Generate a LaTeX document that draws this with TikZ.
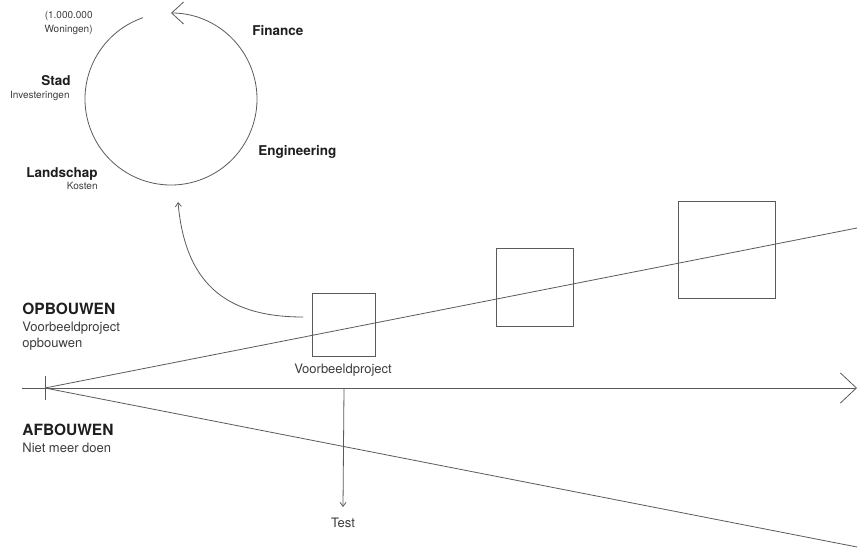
\documentclass[tikz,border=0pt]{standalone}
\usepackage{fontspec}
\setmainfont{TeX Gyre Heros}
\usetikzlibrary{arrows.meta}
\definecolor{ink}{HTML}{5A5A5A}
\definecolor{txt}{HTML}{1E1E1E}
\definecolor{sub}{HTML}{3C3C3C}

\begin{document}
\begin{tikzpicture}[x=1pt,y=1pt,line width=0.8pt,
  head/.style={inner sep=0pt,text=txt,font=\fontsize{13.5}{16}\selectfont\bfseries},
  small/.style={inner sep=0pt,text=sub,font=\fontsize{10}{14}\selectfont},
  big/.style={inner sep=0pt,text=txt,font=\fontsize{15.5}{18}\selectfont\bfseries},
  note/.style={inner sep=0pt,text=sub,font=\fontsize{13}{16}\selectfont},
  proj/.style={draw=ink,inner sep=0pt}]
  \useasboundingbox (0,0) rectangle (861,550);
  % cycle
  \coordinate (c) at (171,451);
  \draw[ink,-{Straight Barb[length=12pt,width=22pt]}] ([shift={(109:86)}]c) arc[start angle=109,end angle=450,radius=86];
  \node[small,anchor=base east,align=right] (won) at (93,517) {(1.000.000\\Woningen)};
  \node[head,anchor=base west] (fin) at (252,514) {Finance};
  \node[head,anchor=base east] (stad) at (71,464) {Stad}; \node[small,anchor=base east] (inv) at (70,451) {Investeringen};
  \node[head,anchor=base west] (eng) at (258,395) {Engineering};
  \node[head,anchor=base east] (land) at (98,373) {Landschap}; \node[small,anchor=base east] (kos) at (98,361) {Kosten};
  % axes
  \coordinate (o) at (45,162); \coordinate (up) at (857,322); \coordinate (dn) at (857,3);
  \draw[ink,-{Straight Barb[length=16pt,width=30pt]}] (22,162) -- (857,162);
  \draw[ink] (45,150) -- (45,174);
  \draw[ink] (o) -- (up); \draw[ink] (o) -- (dn);
  % projects
  \node[proj,minimum width=63pt,minimum height=63pt] (p1) at (343.5,225.5) {};
  \node[proj,minimum width=77pt,minimum height=78pt] (p2) at (534.7,262.9) {};
  \node[proj,minimum width=97pt,minimum height=97pt] (p3) at (726.5,300) {};
  \node[note,anchor=base] (vb) at (343,177) {Voorbeeldproject};
  \coordinate (t) at (344,162); \node[note,anchor=base] (test) at (343,23) {Test};
  \draw[ink,-{Straight Barb[length=4pt,width=6pt]}] (t) -- ([yshift=20pt]test.base);
  \coordinate (c0) at (303,233); \coordinate (c1) at (178,348);
  \draw[ink,-{Straight Barb[length=4pt,width=6pt]}] (c0) to[out=180,in=-85,looseness=1.2] (c1);
  % left labels
  \node[big,anchor=base west] (op) at (22,236) {OPBOUWEN};
  \node[note,anchor=base west,align=left] (opt) at (22,203) {Voorbeeldproject\\opbouwen};
  \node[big,anchor=base west] (af) at (22,115) {AFBOUWEN};
  \node[note,anchor=base west] (aft) at (22,98) {Niet meer doen};
\end{tikzpicture}
\end{document}
